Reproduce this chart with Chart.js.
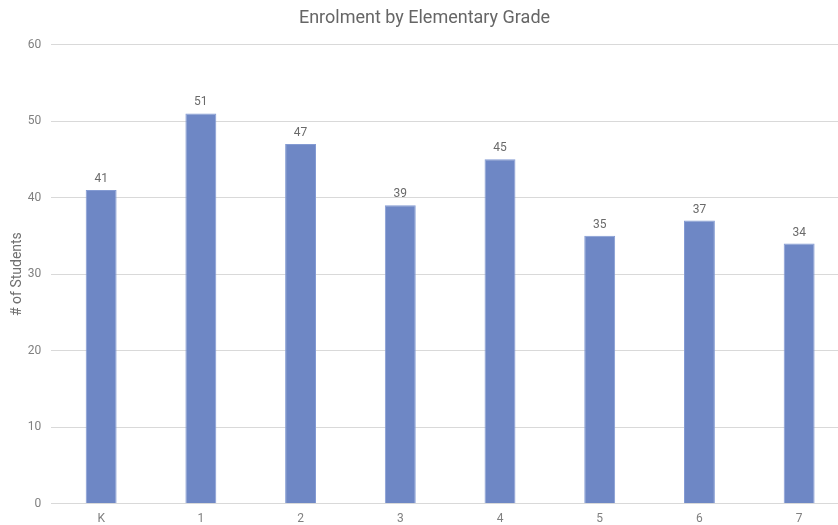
<!DOCTYPE html>
<html><head><meta charset="utf-8">
<script src="https://cdn.jsdelivr.net/npm/chart.js@4"></script>
<style>html,body{margin:0;padding:0;overflow:hidden;background:#fff}#wrap{width:849px;height:525px;position:relative}</style>
</head><body><div id="wrap"><canvas id="c"></canvas></div>
<script>
const categories = ['K','1','2','3','4','5','6','7'];
const students = [41,51,47,39,45,35,37,34];
const yTicks = [0,10,20,30,40,50,60];

const valueLabels = {
  id:'valueLabels',
  afterDatasetsDraw(chart){
    const ctx = chart.ctx;
    const meta = chart.getDatasetMeta(0);
    ctx.save();
    ctx.font = '12px Roboto';
    ctx.fillStyle = '#6a6a6a';
    ctx.textAlign = 'center';
    ctx.textBaseline = 'bottom';
    meta.data.forEach((el,i)=>{
      ctx.fillText(String(chart.data.datasets[0].data[i]), el.x, el.y - 5);
    });
    ctx.restore();
  }
};

new Chart(document.getElementById('c'), {
  type:'bar',
  data:{labels:categories, datasets:[{data:students, backgroundColor:'#6e87c5', borderColor:'#849bd3', borderWidth:{left:1,right:1,top:1,bottom:0}, categoryPercentage:1, barPercentage:0.31}]},
  plugins:[valueLabels],
  options:{
    responsive:true, maintainAspectRatio:false, animation:false,
    layout:{padding:{top:0,left:0,right:0,bottom:-1}},
    plugins:{
      legend:{display:false}, tooltip:{enabled:false},
      title:{display:true, text:'Enrolment by Elementary Grade', color:'#666', font:{family:'Roboto', size:18, weight:'normal'}, padding:{top:8,bottom:15}}
    },
    scales:{
      x:{grid:{display:false}, border:{display:false}, ticks:{color:'#808080', font:{family:'Roboto', size:12}, padding:0}},
      y:{min:0, max:60, afterBuildTicks(a){a.ticks = yTicks.map(v=>({value:v}));},
         grid:{color:'#d9d9d9', drawTicks:false}, border:{display:false},
         ticks:{color:'#808080', font:{family:'Roboto', size:12}, padding:10},
         title:{display:true, text:'# of Students', color:'#707070', font:{family:'Roboto', size:14}, padding:{top:9,bottom:-8}}}
    }
  }
});
</script></body></html>
